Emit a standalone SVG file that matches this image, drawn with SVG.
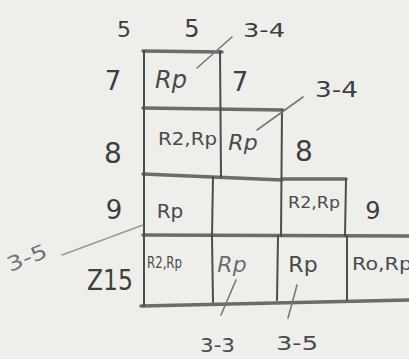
<svg xmlns="http://www.w3.org/2000/svg" width="409" height="359" viewBox="0 0 409 359">
<style>
.h{stroke:#6e6a6a;stroke-width:3.5;stroke-linecap:round;fill:none}
.v{stroke:#4c4c4c;stroke-width:2;stroke-linecap:round;fill:none}
.c{stroke:#777;stroke-width:1.6;stroke-linecap:round;fill:none}
.t{font-family:"DejaVu Sans",sans-serif;fill:#4a4a4a}
.n{font-family:"DejaVu Sans",sans-serif;fill:#3e3e3e}
</style>
<rect width="409" height="359" fill="#eeeeea"/>
<g id="grid">
<path class="h" d="M143 51 L222 52"/>
<path class="h" d="M143 108 L283 110"/>
<path class="h" d="M143 174 L282 180"/>
<path class="h" d="M282 179 L346 179"/>
<path class="h" d="M143 235 L409 236"/>
<path class="h" d="M141 306 L409 300"/>
</g>
<g id="cell-r1c1">
<path class="v" d="M144 51 L144 306"/>
<path class="v" d="M220 51 L221 177"/>
<text class="t" x="171" y="88" font-size="24" text-anchor="middle" font-style="italic">Rp</text>
</g>
<g id="cell-r2c1">
<text class="t" x="158" y="145" font-size="17" textLength="59" lengthAdjust="spacingAndGlyphs">R2,Rp</text>
</g>
<g id="cell-r2c2">
<path class="v" d="M282 110 L281 236"/>
<text class="t" x="243" y="150" font-size="22" text-anchor="middle" font-style="italic">Rp</text>
</g>
<g id="cell-r3c1">
<path class="v" d="M213 177 L212 236"/>
<text class="t" x="170" y="218" font-size="20" text-anchor="middle">Rp</text>
</g>
<g id="cell-r3c2"></g>
<g id="cell-r3c3">
<path class="v" d="M346 179 L345 236"/>
<text class="t" x="288" y="208" font-size="16" textLength="52" lengthAdjust="spacingAndGlyphs">R2,Rp</text>
</g>
<g id="cell-r4c1">
<text class="t" x="147" y="268" font-size="15" textLength="35" lengthAdjust="spacingAndGlyphs">R2,Rp</text>
</g>
<g id="cell-r4c2">
<path class="v" d="M212 236 L213 302"/>
<text class="t" x="232" y="272" font-size="22" text-anchor="middle" font-style="italic" fill-opacity="0.8">Rp</text>
</g>
<g id="cell-r4c3">
<path class="v" d="M278 236 L277 300"/>
<text class="t" x="303" y="272" font-size="22" text-anchor="middle">Rp</text>
</g>
<g id="cell-r4c4">
<path class="v" d="M347 236 L347 300"/>
<text class="t" x="352" y="270" font-size="18" textLength="60" lengthAdjust="spacingAndGlyphs">Ro,Rp</text>
</g>
<g id="labels">
<text class="n" x="124" y="37" font-size="22" text-anchor="middle">5</text>
<text class="n" x="192" y="37" font-size="24" text-anchor="middle">5</text>
<text class="n" x="113" y="90" font-size="26" text-anchor="middle">7</text>
<text class="n" x="240" y="91" font-size="26" text-anchor="middle">7</text>
<text class="n" x="113" y="163" font-size="28" text-anchor="middle">8</text>
<text class="n" x="304" y="161" font-size="28" text-anchor="middle">8</text>
<text class="n" x="114" y="219" font-size="26" text-anchor="middle">9</text>
<text class="n" x="373" y="219" font-size="24" text-anchor="middle">9</text>
<text class="n" x="87" y="290" font-size="28" textLength="46" lengthAdjust="spacingAndGlyphs">Z15</text>
<text class="n" x="243" y="37" font-size="20" textLength="42" lengthAdjust="spacingAndGlyphs">3-4</text>
<text class="n" x="315" y="97" font-size="22" textLength="43" lengthAdjust="spacingAndGlyphs">3-4</text>
<text class="t" x="200" y="352" font-size="20" textLength="35" lengthAdjust="spacingAndGlyphs">3-3</text>
<text class="t" x="276" y="350" font-size="20" textLength="42" lengthAdjust="spacingAndGlyphs">3-5</text>
<text class="t" x="10" y="272" font-size="20" textLength="42" lengthAdjust="spacingAndGlyphs" transform="rotate(-22 10 272)" fill-opacity="0.75">3-5</text>
</g>
<g id="connectors">
<path class="c" d="M232 37 L197 68"/>
<path class="c" d="M303 97 L257 130"/>
<path class="c" d="M62 255 L143 225" stroke-opacity="0.7"/>
<path class="c" d="M236 280 L221 315"/>
<path class="c" d="M297 285 L288 318"/>
</g>
</svg>
